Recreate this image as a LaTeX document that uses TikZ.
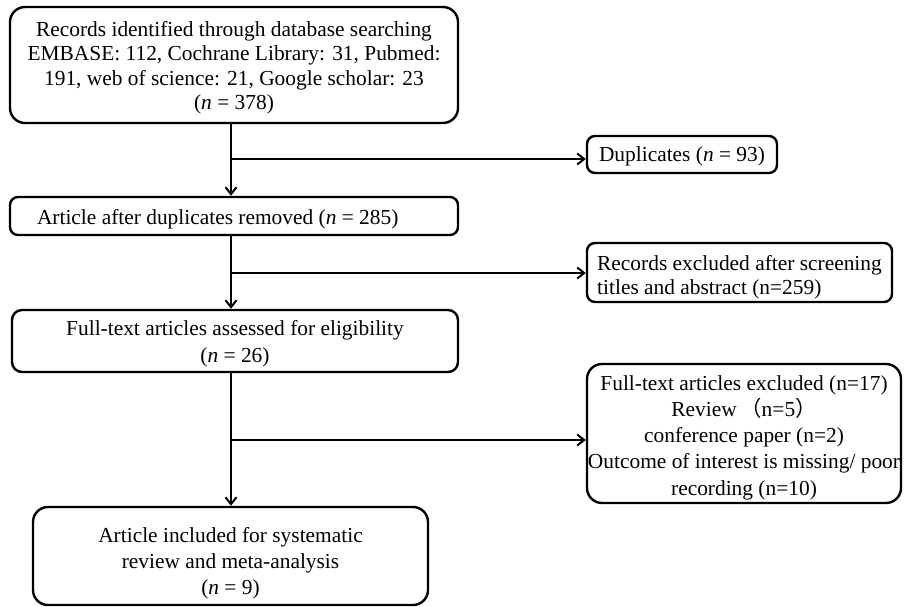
\documentclass[tikz,border=0pt]{standalone}
\usepackage{fontspec}
\setmainfont{Liberation Serif}
\newfontfamily\cjk{Noto Sans CJK SC}
\usetikzlibrary{arrows.meta}
\newcommand\dnshift[1]{\rule{0pt}{\dimexpr 15pt+#1+#1\relax}}
\begin{document}
\begin{tikzpicture}[x=1pt,y=-1pt,
  every node/.style={font=\fontsize{21.4}{24.5}\selectfont},
  bigbox/.style={draw, line width=2.4pt, rounded corners=15pt, align=center, inner sep=0pt},
  smallbox/.style={draw, line width=2.4pt, rounded corners=8pt, inner sep=0pt},
  arr/.style={line width=2pt, -{Straight Barb[length=7pt,width=11pt,line width=2pt]}},
  plain/.style={line width=2pt}]
\useasboundingbox (0,0) rectangle (904,607);

% main column
\node[bigbox, minimum width=448pt, minimum height=116pt] (b1) at (234,65)
  {\dnshift{3pt}Records identified through database searching\\
   EMBASE: 112, Cochrane Library: 31, Pubmed:\\
   191, web of science: 21, Google scholar: 23\\
   (\textit{n} = 378)};
\node[smallbox, minimum width=448pt, minimum height=38pt, inner xsep=27pt] (b2) at (234,216)
  {\makebox[394pt][l]{\dnshift{3pt}Article after duplicates removed (\textit{n} = 285)}};
\node[bigbox, rounded corners=10pt, minimum width=446pt, minimum height=62pt, font=\fontsize{21.4}{27}\selectfont] (b3) at (235,341)
  {\dnshift{3pt}Full-text articles assessed for eligibility\\ (\textit{n} = 26)};
\node[bigbox, minimum width=395pt, minimum height=98pt, font=\fontsize{21.4}{26}\selectfont] (b4) at (230.5,556)
  {\dnshift{7pt}Article included for systematic\\ review and meta-analysis\\ (\textit{n} = 9)};

% side boxes
\node[smallbox, minimum width=190pt, minimum height=37pt] (dup) at (682,154.5)
  {\dnshift{2pt}Duplicates (\textit{n} = 93)};
\node[smallbox, minimum width=305pt, minimum height=59pt, align=left] (rec) at (739.5,272.5)
  {\dnshift{5pt}Records excluded after screening\\ titles and abstract (n=259)};
\node[bigbox, minimum width=314pt, minimum height=139pt, font=\fontsize{21.4}{26.2}\selectfont] (fte) at (744,433.5)
  {\dnshift{4pt}Full-text articles excluded (n=17)\\
   Review\,{\cjk（}n=5{\cjk）}\\
   conference paper (n=2)\\
   Outcome of interest is missing/ poor\\
   recording (n=10)};

% junctions on the spine
\coordinate (j1) at (231,159);
\coordinate (j2) at (231,273);
\coordinate (j3) at (231,440);

% connectors
\draw[arr] (b1.south -| j1) -- (b2.north -| j1);
\draw[arr] (j1) -- (dup.west |- j1);
\draw[arr] (b2.south -| j2) -- (b3.north -| j2);
\draw[arr] (j2) -- (rec.west |- j2);
\draw[arr] (b3.south -| j3) -- (b4.north -| j3);
\draw[arr] (j3) -- (fte.west |- j3);
\end{tikzpicture}
\end{document}
